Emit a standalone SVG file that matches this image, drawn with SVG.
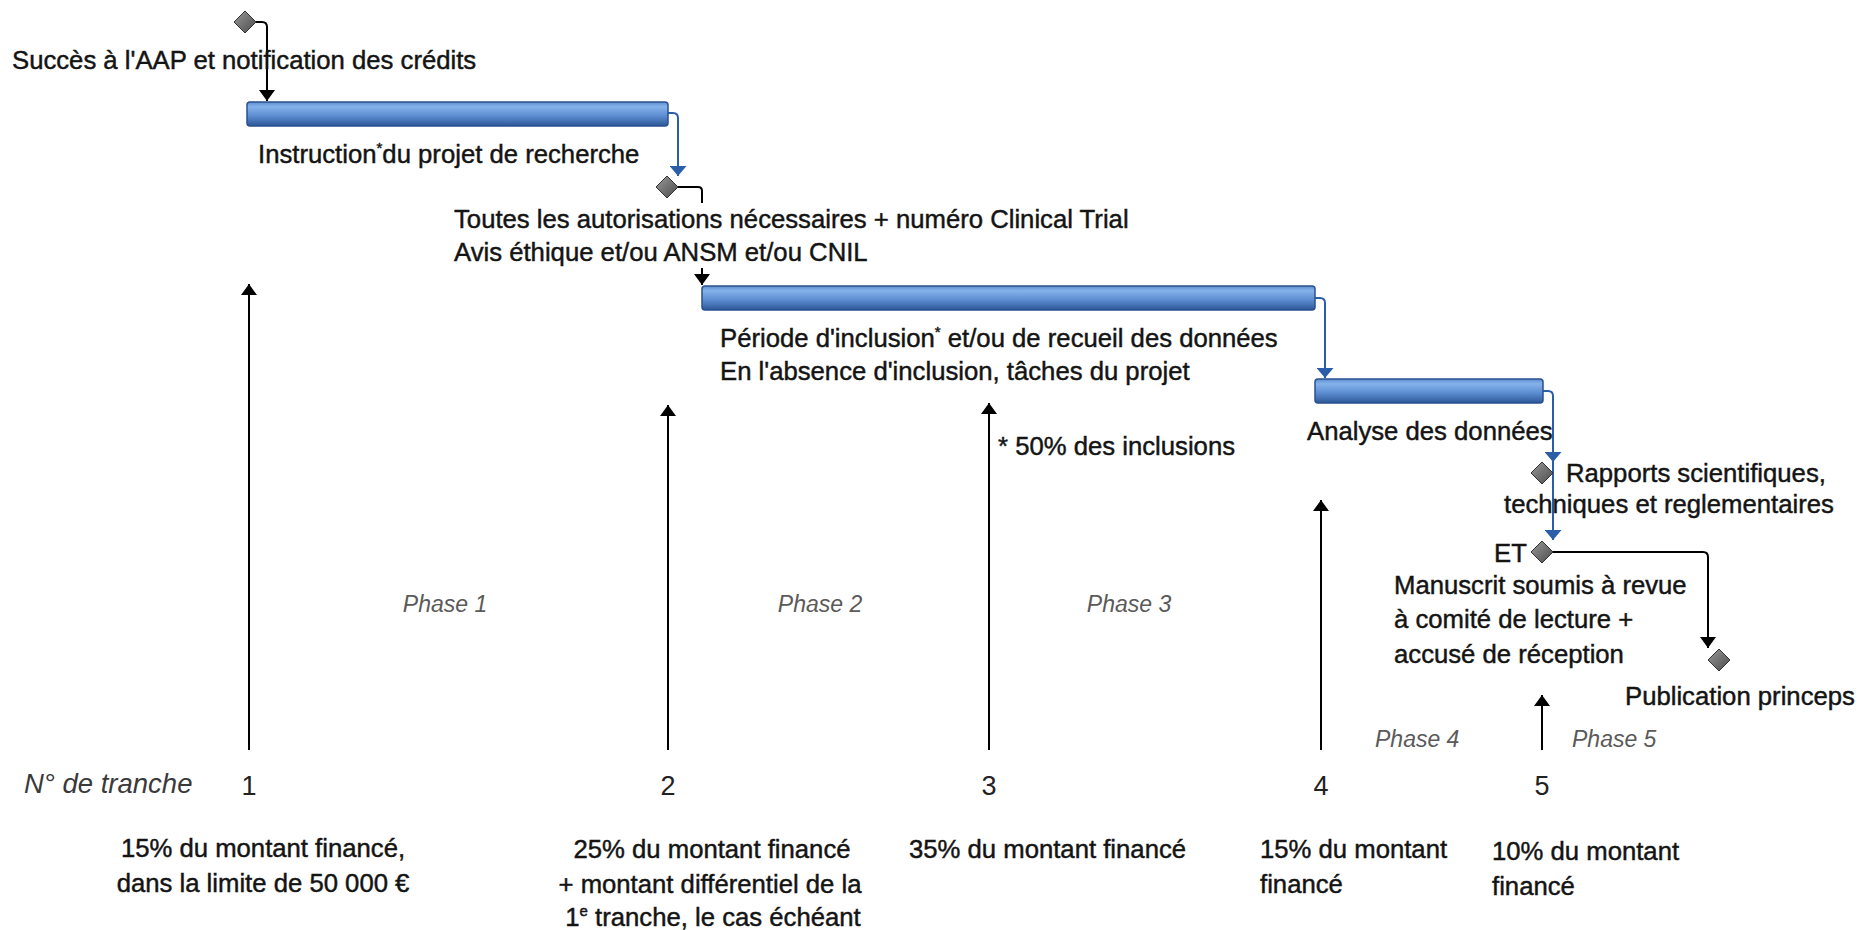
<svg xmlns="http://www.w3.org/2000/svg" width="1870" height="930" viewBox="0 0 1870 930">
<defs>
<linearGradient id="barGrad" x1="0" y1="0" x2="0" y2="1">
<stop offset="0" stop-color="#5f8fd0"/>
<stop offset="0.2" stop-color="#84b2ea"/>
<stop offset="0.6" stop-color="#5a8bcf"/>
<stop offset="1" stop-color="#2c5796"/>
</linearGradient>
<linearGradient id="diaGrad" x1="0" y1="0" x2="1" y2="1">
<stop offset="0" stop-color="#9a9a9a"/>
<stop offset="1" stop-color="#4a4a4a"/>
</linearGradient>
<marker id="arrBlack" viewBox="0 0 11 16" refX="11" refY="8" markerWidth="11" markerHeight="16" markerUnits="userSpaceOnUse" orient="auto">
<path d="M0,0 L11,8 L0,16 Z" fill="#000"/>
</marker>
<marker id="arrBlue" viewBox="0 0 10 17" refX="10" refY="8.5" markerWidth="10" markerHeight="17" markerUnits="userSpaceOnUse" orient="auto">
<path d="M0,0 L10,8.5 L0,17 Z" fill="#2a5ea8"/>
</marker>
</defs>
<style>
.t{font-family:"Liberation Sans",Arial,sans-serif;font-size:25.7px;fill:#141414;stroke:#141414;stroke-width:0.45px}
.ph{font-family:"Liberation Sans",Arial,sans-serif;font-size:23px;font-style:italic;fill:#5a5a5a}
.nt{font-family:"Liberation Sans",Arial,sans-serif;font-size:27.5px;font-style:italic;fill:#3a3a3a}
.num{font-family:"Liberation Sans",Arial,sans-serif;font-size:27px;fill:#222;text-anchor:middle}
.mid{text-anchor:middle}
.bar{fill:url(#barGrad);stroke:#2a5090;stroke-width:1.5}
.dia{fill:url(#diaGrad);stroke:#333;stroke-width:1}
.cb{fill:none;stroke:#000;stroke-width:2}
.cblue{fill:none;stroke:#2a5ea8;stroke-width:2}
.up{fill:none;stroke:#000;stroke-width:2}
</style>
<rect width="1870" height="930" fill="#fff"/>

<g id="connectors">
<path class="cb" d="M256,22 H262 Q267,22 267,27 V101" marker-end="url(#arrBlack)"/>
<path class="cblue" d="M668,113 H673 Q678,113 678,118 V176" marker-end="url(#arrBlue)"/>
<path class="cb" d="M678,187 H698 Q702,187 702,191 V203"/>
<path class="cb" d="M702,268 V285" marker-end="url(#arrBlack)"/>
<path class="cblue" d="M1315,298 H1320 Q1325,298 1325,303 V378" marker-end="url(#arrBlue)"/>
<path class="cblue" d="M1543,391 H1548 Q1553,391 1553,396 V462" marker-end="url(#arrBlue)"/>
<path class="cblue" d="M1553,460 V540" marker-end="url(#arrBlue)"/>
<path class="cb" d="M1553,552 H1703 Q1708,552 1708,557 V648" marker-end="url(#arrBlack)"/>
<path class="up" d="M249,750 V284" marker-end="url(#arrBlack)"/>
<path class="up" d="M668,750 V405" marker-end="url(#arrBlack)"/>
<path class="up" d="M989,750 V403" marker-end="url(#arrBlack)"/>
<path class="up" d="M1321,750 V500" marker-end="url(#arrBlack)"/>
<path class="up" d="M1542,750 V695" marker-end="url(#arrBlack)"/>
</g>

<g id="m1"><polygon class="dia" points="245,11 256,22 245,33 234,22"/>
<text class="t" x="12" y="69">Succès à l'AAP et notification des crédits</text></g>

<g id="task1"><rect class="bar" x="247" y="102" width="421" height="24" rx="3"/>
<text class="t" x="258" y="163">Instruction<tspan font-size="15" dy="-10">*</tspan><tspan dy="10">du projet de recherche</tspan></text></g>

<g id="m2"><polygon class="dia" points="667,176 678,187 667,198 656,187"/>
<text class="t" x="454" y="228">Toutes les autorisations nécessaires + numéro Clinical Trial</text>
<text class="t" x="454" y="261">Avis éthique et/ou ANSM et/ou CNIL</text></g>

<g id="task2"><rect class="bar" x="702" y="286" width="613" height="24" rx="3"/>
<text class="t" x="720" y="347">Période d'inclusion<tspan font-size="15" dy="-10">*</tspan><tspan dy="10"> et/ou de recueil des données</tspan></text>
<text class="t" x="720" y="380">En l'absence d'inclusion, tâches du projet</text></g>

<g id="task3"><rect class="bar" x="1315" y="379" width="228" height="24" rx="3"/>
<text class="t" x="1307" y="440">Analyse des données</text></g>

<g id="note"><text class="t" x="998" y="455">* 50% des inclusions</text></g>

<g id="m3"><polygon class="dia" points="1542,462 1553,473 1542,484 1531,473"/>
<text class="t" x="1566" y="482">Rapports scientifiques,</text>
<text class="t" x="1504" y="513">techniques et reglementaires</text></g>

<g id="m4"><polygon class="dia" points="1542,541 1553,552 1542,563 1531,552"/>
<text class="t" x="1494" y="562">ET</text>
<text class="t" x="1394" y="594">Manuscrit soumis à revue</text>
<text class="t" x="1394" y="628">à comité de lecture +</text>
<text class="t" x="1394" y="663">accusé de réception</text></g>

<g id="m5"><polygon class="dia" points="1719,649 1730,660 1719,671 1708,660"/>
<text class="t" x="1625" y="705">Publication princeps</text></g>

<g id="phases">
<text class="ph mid" x="445" y="612">Phase 1</text>
<text class="ph mid" x="820" y="612">Phase 2</text>
<text class="ph mid" x="1129" y="612">Phase 3</text>
<text class="ph" x="1375" y="747">Phase 4</text>
<text class="ph" x="1572" y="747">Phase 5</text>
</g>

<g id="tranches">
<text class="nt" x="24" y="793">N° de tranche</text>
<text class="num" x="249" y="795">1</text>
<text class="num" x="668" y="795">2</text>
<text class="num" x="989" y="795">3</text>
<text class="num" x="1321" y="795">4</text>
<text class="num" x="1542" y="795">5</text>
<text class="t mid" x="263" y="857">15% du montant financé,</text>
<text class="t mid" x="263" y="892">dans la limite de 50 000 €</text>
<text class="t mid" x="712" y="858">25% du montant financé</text>
<text class="t mid" x="710" y="893">+ montant différentiel de la</text>
<text class="t mid" x="713" y="926">1<tspan font-size="15" dy="-10">e</tspan><tspan dy="10"> tranche, le cas échéant</tspan></text>
<text class="t" x="909" y="858">35% du montant financé</text>
<text class="t" x="1260" y="858">15% du montant</text>
<text class="t" x="1260" y="893">financé</text>
<text class="t" x="1492" y="860">10% du montant</text>
<text class="t" x="1492" y="895">financé</text>
</g>
</svg>
